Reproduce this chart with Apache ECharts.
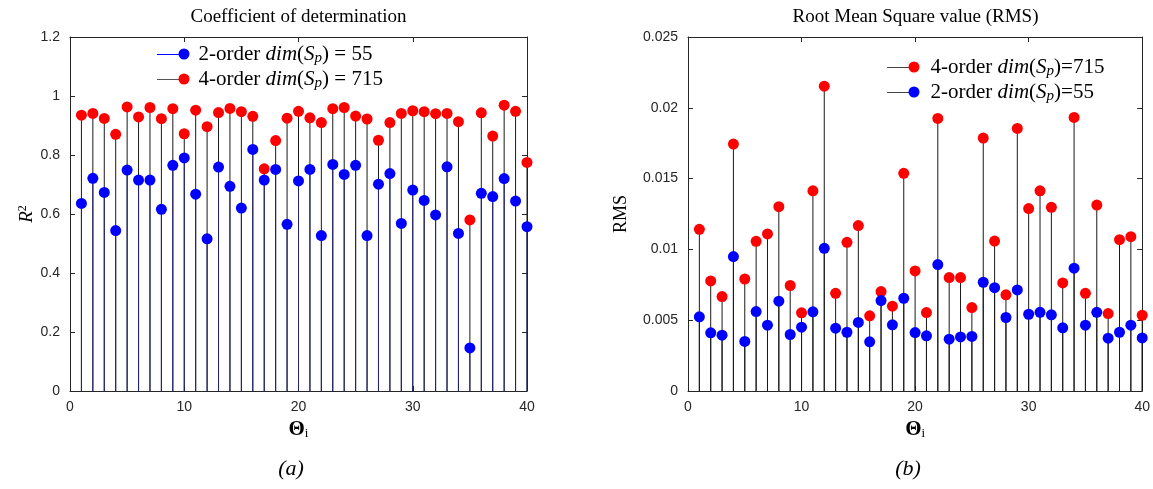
<!DOCTYPE html>
<html>
<head>
<meta charset="utf-8">
<title>R2 and RMS stems</title>
<script src="https://cdn.jsdelivr.net/npm/echarts@6/dist/echarts.min.js"></script>
<style>
  html, body { margin: 0; padding: 0; background: #fff; }
  #chart { width: 1153px; height: 489px; }
</style>
</head>
<body>
<div id="chart"></div>
<script>
// sample index 1..40
var thetaIdx = [];
for (var k = 1; k <= 40; k++) { thetaIdx.push(k); }

// (a) coefficient of determination
var r2Order2 = [0.636, 0.721, 0.673, 0.544, 0.749, 0.715, 0.715, 0.616, 0.765, 0.790,
                0.667, 0.516, 0.759, 0.694, 0.620, 0.819, 0.715, 0.751, 0.565, 0.712,
                0.751, 0.527, 0.768, 0.734, 0.765, 0.527, 0.701, 0.737, 0.568, 0.681,
                0.646, 0.597, 0.760, 0.534, 0.146, 0.670, 0.659, 0.720, 0.644, 0.557];
var r2Order4 = [0.935, 0.941, 0.924, 0.870, 0.963, 0.929, 0.961, 0.923, 0.957, 0.872,
                0.952, 0.896, 0.944, 0.958, 0.947, 0.931, 0.753, 0.849, 0.925, 0.948,
                0.926, 0.910, 0.957, 0.961, 0.932, 0.922, 0.850, 0.910, 0.941, 0.950,
                0.947, 0.940, 0.941, 0.913, 0.580, 0.943, 0.864, 0.969, 0.948, 0.775];

// (b) RMS
var rmsOrder4 = [0.01142, 0.00777, 0.00667, 0.01744, 0.00791, 0.01057, 0.01109, 0.01302, 0.00745, 0.00552,
                 0.01414, 0.02153, 0.00690, 0.01050, 0.01168, 0.00531, 0.00702, 0.00599, 0.01537, 0.00848,
                 0.00554, 0.01925, 0.00801, 0.00801, 0.00589, 0.01786, 0.01059, 0.00679, 0.01854, 0.01288,
                 0.01414, 0.01297, 0.00763, 0.01932, 0.00690, 0.01313, 0.00547, 0.01069, 0.01090, 0.00535];
var rmsOrder2 = [0.00524, 0.00411, 0.00394, 0.00949, 0.00350, 0.00561, 0.00465, 0.00634, 0.00399, 0.00451,
                 0.00559, 0.01008, 0.00444, 0.00415, 0.00484, 0.00347, 0.00639, 0.00467, 0.00655, 0.00413,
                 0.00390, 0.00893, 0.00366, 0.00382, 0.00385, 0.00768, 0.00730, 0.00519, 0.00714, 0.00542,
                 0.00556, 0.00538, 0.00446, 0.00867, 0.00465, 0.00556, 0.00373, 0.00415, 0.00465, 0.00375];

var xTicks = [0, 10, 20, 30, 40];
var r2Ticks = [0, 0.2, 0.4, 0.6, 0.8, 1, 1.2];
var rmsTicks = [0, 0.005, 0.01, 0.015, 0.02, 0.025];

var SERIF = 'Liberation Serif';
var SANS = 'Liberation Sans';
var AX = '#262626';

function pairs(vals) {
    return vals.map(function (v, i) { return [thetaIdx[i], v]; });
}

// vertical stem from 0 up to the value
function stemSeries(vals, xi, color) {
    return {
        type: 'custom',
        xAxisIndex: xi, yAxisIndex: xi,
        silent: true,
        z: 1,
        data: pairs(vals),
        encode: { x: 0, y: 1 },
        renderItem: function (params, api) {
            var p0 = api.coord([api.value(0), 0]);
            var p1 = api.coord([api.value(0), api.value(1)]);
            return {
                type: 'line',
                shape: { x1: p0[0], y1: p0[1], x2: p1[0], y2: p1[1] },
                style: { stroke: color, lineWidth: 1 }
            };
        }
    };
}

function dotSeries(name, vals, xi, color) {
    return {
        name: name,
        type: 'scatter',
        xAxisIndex: xi, yAxisIndex: xi,
        symbol: 'circle',
        symbolSize: 11,
        z: 3,
        itemStyle: { color: color, opacity: 1 },
        data: pairs(vals)
    };
}

var tick = { show: true, inside: true, length: 5, lineStyle: { color: AX } };
var line = { show: true, onZero: false, lineStyle: { color: AX, width: 1 } };

function xAx(grid, pos, ticks) {
    return {
        gridIndex: grid, type: 'value', position: pos,
        min: ticks[0], max: ticks[ticks.length - 1], interval: ticks[1] - ticks[0],
        axisLine: line, axisTick: tick, splitLine: { show: false },
        axisLabel: { show: pos === 'bottom', color: AX, fontFamily: SANS, fontSize: 14, margin: 9 },
        name: pos === 'bottom' ? '{b|\u0398}{s|i}' : '',
        nameLocation: 'middle', nameGap: 24,
        nameTextStyle: {
            rich: {
                b: { fontFamily: SERIF, fontWeight: 'bold', fontSize: 21, color: '#000', lineHeight: 22 },
                s: { fontFamily: SERIF, fontSize: 13, color: '#000', lineHeight: 10, verticalAlign: 'bottom' }
            }
        }
    };
}

function yAx(grid, pos, ticks, name, gap, rich) {
    return {
        gridIndex: grid, type: 'value', position: pos,
        min: ticks[0], max: ticks[ticks.length - 1], interval: ticks[1] - ticks[0],
        axisLine: line, axisTick: tick, splitLine: { show: false },
        axisLabel: { show: pos === 'left', color: AX, fontFamily: SANS, fontSize: 14, margin: 10 },
        name: pos === 'left' ? name : '',
        nameLocation: 'middle', nameRotate: 90, nameGap: gap,
        nameTextStyle: { fontFamily: SERIF, fontSize: 18, color: '#000', rich: rich }
    };
}

var legendText = {
    r2o2: '2-order {i|dim}({i|S}{s|p}) = 55',
    r2o4: '4-order {i|dim}({i|S}{s|p}) = 715',
    rmso4: '4-order {i|dim}({i|S}{s|p})=715',
    rmso2: '2-order {i|dim}({i|S}{s|p})=55'
};
var legendRich = {
    i: { fontFamily: SERIF, fontStyle: 'italic', fontSize: 21, color: '#000', lineHeight: 24 },
    s: { fontFamily: SERIF, fontStyle: 'italic', fontSize: 15, color: '#000', lineHeight: 14, verticalAlign: 'bottom' }
};

function legendAt(names, left, top, padLeft) {
    return {
        orient: 'vertical', left: left, top: top, padding: 0,
        itemGap: 1, itemWidth: 11, itemHeight: 11, icon: 'circle',
        data: names,
        selectedMode: false,
        formatter: function (n) { return legendText[n]; },
        textStyle: { fontFamily: SERIF, fontSize: 21, color: '#000', lineHeight: 24,
                     padding: [0, 0, 0, padLeft], rich: legendRich }
    };
}

function legLine(x1, x2, y, color) {
    return { type: 'line', z: 1, shape: { x1: x1, y1: y, x2: x2, y2: y }, style: { stroke: color, lineWidth: 1 } };
}

function label(txt, x, y, font) {
    return { type: 'text', x: x, y: y, style: { text: txt, font: font, fill: '#000', align: 'center', verticalAlign: 'middle' } };
}

var chart = echarts.init(document.getElementById('chart'));

var option = {
    backgroundColor: '#fff',
    animation: false,
    grid: [
        { left: 70, top: 37, width: 457, height: 354 },
        { left: 688, top: 37, width: 455, height: 354 }
    ],
    xAxis: [xAx(0, 'bottom', xTicks), xAx(0, 'top', xTicks), xAx(1, 'bottom', xTicks), xAx(1, 'top', xTicks)],
    yAxis: [
        yAx(0, 'left', r2Ticks, '{r|R}{sup|2}', 30, {
            r: { fontFamily: SERIF, fontStyle: 'italic', fontSize: 19, color: '#000', lineHeight: 20 },
            sup: { fontFamily: SERIF, fontSize: 12, color: '#000', lineHeight: 12, verticalAlign: 'top' }
        }),
        yAx(0, 'right', r2Ticks, '', 0),
        yAx(1, 'left', rmsTicks, 'RMS', 58),
        yAx(1, 'right', rmsTicks, '', 0)
    ],
    legend: [
        legendAt(['r2o2', 'r2o4'], 178.5, 42, 4),
        legendAt(['rmso4', 'rmso2'], 908.5, 55, 6)
    ],
    graphic: [
        legLine(157, 184, 54.5, '#0000ff'),
        legLine(157, 184, 79.5, '#555555'),
        legLine(887, 914, 67.5, '#444444'),
        legLine(887, 914, 92.5, '#444444'),
        label('Coefficient of determination', 298.5, 17, '19px "Liberation Serif"'),
        label('Root Mean Square value (RMS)', 915.5, 17, '19px "Liberation Serif"'),
        label('(a)', 291, 469, 'italic 22px "Liberation Serif"'),
        label('(b)', 908, 469, 'italic 22px "Liberation Serif"')
    ],
    series: [
        stemSeries(r2Order4, 0, '#1a1a1a'),
        stemSeries(r2Order2, 0, '#22227a'),
        dotSeries('r2o4', r2Order4, 0, '#ff0000'),
        dotSeries('r2o2', r2Order2, 0, '#0000ff'),
        stemSeries(rmsOrder4, 2, '#1a1a1a'),
        stemSeries(rmsOrder2, 2, '#1a1a1a'),
        dotSeries('rmso4', rmsOrder4, 2, '#ff0000'),
        dotSeries('rmso2', rmsOrder2, 2, '#0000ff')
    ]
};

chart.setOption(option);
</script>
</body>
</html>
